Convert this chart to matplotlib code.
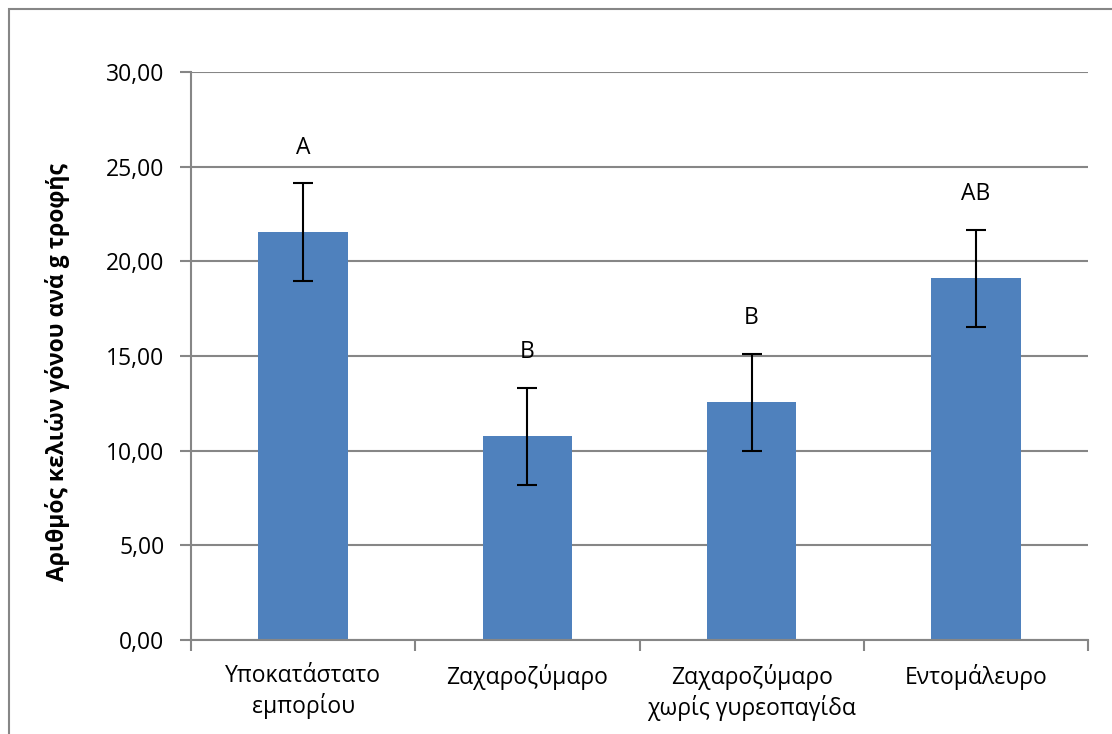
import matplotlib
matplotlib.use("Agg")
import matplotlib.pyplot as plt
from matplotlib.patches import Rectangle
from matplotlib.ticker import FuncFormatter, MultipleLocator

plt.rcParams['font.family'] = ['Open Sans', 'DejaVu Sans']

categories = ["Υποκατάστατο\nεμπορίου", "Ζαχαροζύμαρο",
              "Ζαχαροζύμαρο\nχωρίς γυρεοπαγίδα", "Εντομάλευρο"]
means = [21.55, 10.75, 12.55, 19.10]
errors = [2.58, 2.58, 2.58, 2.58]
groups = ["A", "B", "B", "AB"]
y_label = "Αριθμός κελιών γόνου ανά g τροφής"

W, H = 1112, 734
fig = plt.figure(figsize=(W / 100, H / 100), dpi=100)

# outer chart frame
fig.patches.append(Rectangle((9 / W, -0.1), 1.2, (H - 9) / H + 0.1,
                             transform=fig.transFigure, fill=False,
                             edgecolor="#868686", linewidth=1.5, zorder=0))

ax = fig.add_axes([191 / W, 1 - 640 / H, (1088 - 191) / W, (640 - 72) / H])

grid_c = "#868686"
fs = 16.5
x = range(len(categories))
ax.bar(x, means, width=0.40, color="#4F81BD", zorder=2)
ax.errorbar(x, means, yerr=errors, fmt="none", ecolor="black",
            elinewidth=1.5, capsize=7, capthick=1.5, zorder=3)

for xi, m, e, g in zip(x, means, errors, groups):
    ax.annotate(g, (xi, m + e), xytext=(0, 17), textcoords="offset points",
                ha="center", va="bottom", fontsize=fs)

ax.set_xlim(-0.5, len(categories) - 0.5)
ax.set_ylim(0, 30)
ax.yaxis.set_major_locator(MultipleLocator(5))
ax.yaxis.set_major_formatter(FuncFormatter(lambda v, p: f"{v:.2f}".replace(".", ",")))
ax.grid(axis="y", color=grid_c, linewidth=1.5, zorder=1)
ax.set_axisbelow(True)

ax.set_xticks([i - 0.5 for i in range(len(categories) + 1)], minor=False)
ax.set_xticklabels([])
ax.set_xticks(list(x), minor=True)
ax.set_xticklabels(categories, minor=True, fontsize=fs, linespacing=1.25)
ax.tick_params(axis="x", which="minor", length=0, pad=17)
ax.tick_params(axis="x", which="major", length=8, color=grid_c, width=1.5)
ax.tick_params(axis="y", length=8, color=grid_c, width=1.5, labelsize=fs, pad=11)

for s in ["top", "right"]:
    ax.spines[s].set_visible(False)
for s in ["left", "bottom"]:
    ax.spines[s].set_color(grid_c)
    ax.spines[s].set_linewidth(1.5)

fig.text(58 / W, 1 - 372 / H, y_label, rotation=90, ha="center", va="center",
         fontsize=16.5, fontweight="bold")

fig.savefig("out.png", dpi=100)
